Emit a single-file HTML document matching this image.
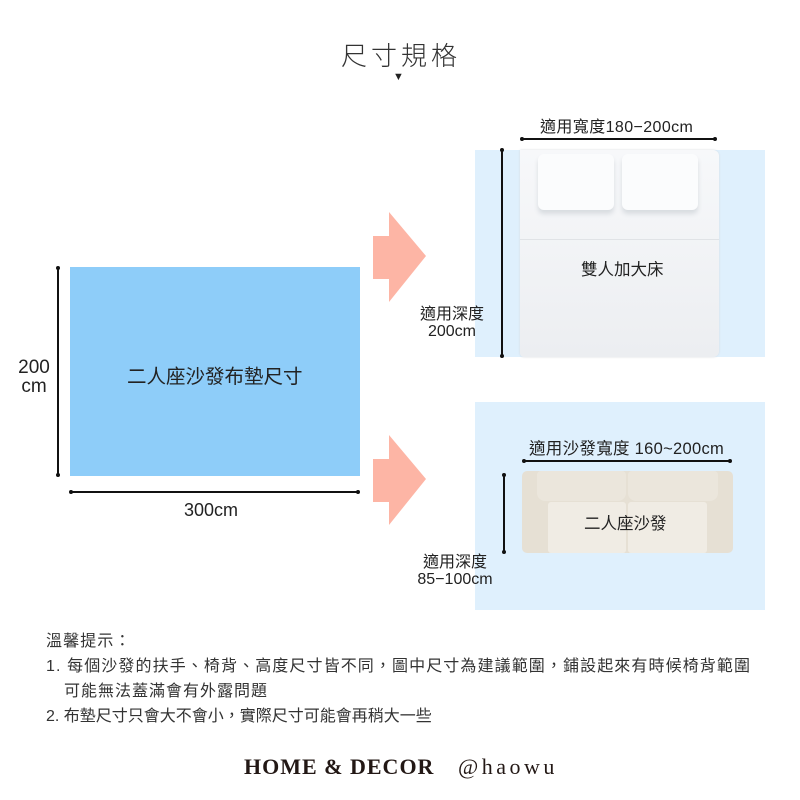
<!DOCTYPE html>
<html><head><meta charset="utf-8"><style>
body{margin:0;width:800px;height:800px;background:#fff;position:relative;overflow:hidden;font-family:"Liberation Sans","Noto Sans CJK TC",sans-serif;color:#222}
.a{position:absolute}
.t{position:absolute;white-space:nowrap}
.dot{position:absolute;width:4px;height:4px;border-radius:50%;background:#111}
</style></head><body>
<div class="t" style="left:341px;top:36px;font-size:26px;letter-spacing:4px;font-weight:300;color:#333">尺寸規格</div>
<div class="t" style="left:393px;top:71px;font-size:11px;color:#222">▼</div>

<div class="a" style="left:70px;top:267px;width:290px;height:209px;background:#8ecdf9"></div>
<div class="t" style="left:127px;top:360px;font-size:19.5px;color:#222">二人座沙發布墊尺寸</div>
<div class="a" style="left:57px;top:268px;width:2px;height:208px;background:#111"></div>
<div class="dot" style="left:56px;top:266px"></div><div class="dot" style="left:56px;top:473px"></div>
<div class="t" style="left:14px;top:358px;font-size:19px;line-height:19px;text-align:center;width:40px">200<br>cm</div>
<div class="a" style="left:71px;top:491px;width:288px;height:2px;background:#111"></div>
<div class="dot" style="left:69px;top:490px"></div><div class="dot" style="left:356px;top:490px"></div>
<div class="t" style="left:184px;top:500px;font-size:18px">300cm</div>

<svg class="a" style="left:0;top:0" width="800" height="800">
<polygon points="373,236 389,236 389,212 426,256 389,302 389,279 373,279" fill="#fdb5a5"/>
<polygon points="373,459 389,459 389,435 426,479 389,525 389,502 373,502" fill="#fdb5a5"/>
</svg>

<div class="a" style="left:475px;top:150px;width:290px;height:207px;background:#dff0fd"></div>
<div class="a" style="left:520px;top:150px;width:199px;height:207px;background:linear-gradient(#f7f8fa,#eceef1);border-radius:0 6px 6px 4px;box-shadow:0 0 2px #d6dbe0"></div>
<div class="a" style="left:538px;top:154px;width:76px;height:56px;background:#fbfcfd;border-radius:6px;box-shadow:0 4px 5px #d8dce0"></div>
<div class="a" style="left:622px;top:154px;width:76px;height:56px;background:#fbfcfd;border-radius:6px;box-shadow:0 4px 5px #d8dce0"></div>
<div class="a" style="left:520px;top:239px;width:199px;height:1px;background:#e0e3e6"></div>
<div class="t" style="left:581px;top:256px;font-size:16.5px">雙人加大床</div>
<div class="a" style="left:521px;top:138px;width:194px;height:2px;background:#111"></div>
<div class="dot" style="left:520px;top:137px"></div><div class="dot" style="left:713px;top:137px"></div>
<div class="t" style="left:540px;top:113px;font-size:16px;letter-spacing:0.4px">適用寬度180−200cm</div>
<div class="a" style="left:501px;top:150px;width:2px;height:207px;background:#111"></div>
<div class="dot" style="left:500px;top:148px"></div><div class="dot" style="left:500px;top:354px"></div>
<div class="t" style="left:417px;top:306px;font-size:16px;line-height:17px;text-align:center;width:70px">適用深度<br>200cm</div>

<div class="a" style="left:475px;top:402px;width:290px;height:208px;background:#dff0fd"></div>
<div class="a" style="left:522px;top:471px;width:211px;height:82px;background:#e6e0d4;border-radius:5px"></div>
<div class="a" style="left:537px;top:471px;width:89px;height:30px;background:#ebe6dc;border-radius:4px 4px 8px 8px"></div>
<div class="a" style="left:628px;top:471px;width:90px;height:30px;background:#ebe6dc;border-radius:4px 4px 8px 8px"></div>
<div class="a" style="left:548px;top:502px;width:78px;height:51px;background:#f0ece4;border-radius:3px"></div>
<div class="a" style="left:628px;top:502px;width:79px;height:51px;background:#f0ece4;border-radius:3px"></div>
<div class="t" style="left:584px;top:510px;font-size:16.5px">二人座沙發</div>
<div class="a" style="left:524px;top:460px;width:206px;height:2px;background:#111"></div>
<div class="dot" style="left:522px;top:459px"></div><div class="dot" style="left:728px;top:459px"></div>
<div class="t" style="left:529px;top:435px;font-size:16.5px;letter-spacing:0.3px">適用沙發寬度 160~200cm</div>
<div class="a" style="left:503px;top:475px;width:2px;height:77px;background:#111"></div>
<div class="dot" style="left:502px;top:473px"></div><div class="dot" style="left:502px;top:550px"></div>
<div class="t" style="left:412px;top:554px;font-size:16px;line-height:17px;text-align:center;width:86px">適用深度<br>85−100cm</div>

<div class="t" style="left:46px;top:629px;font-size:16px;line-height:25px;letter-spacing:1.1px;color:#333">溫馨提示：<br>1. 每個沙發的扶手、椅背、高度尺寸皆不同，圖中尺寸為建議範圍，鋪設起來有時候椅背範圍</div>
<div class="t" style="left:64px;top:679px;font-size:16px;line-height:25px;letter-spacing:1px;color:#333">可能無法蓋滿會有外露問題</div>
<div class="t" style="left:46px;top:704px;font-size:16px;line-height:25px;letter-spacing:0px;color:#333">2. 布墊尺寸只會大不會小，實際尺寸可能會再稍大一些</div>

<div class="t" style="left:244px;top:754px;font-size:22px;font-family:'Liberation Serif',serif;font-weight:bold;letter-spacing:1px;color:#231815">HOME &amp; DECOR</div>
<div class="t" style="left:458px;top:754px;font-size:22px;font-family:'Liberation Serif',serif;letter-spacing:3.5px;color:#231815">@haowu</div>
</body></html>
